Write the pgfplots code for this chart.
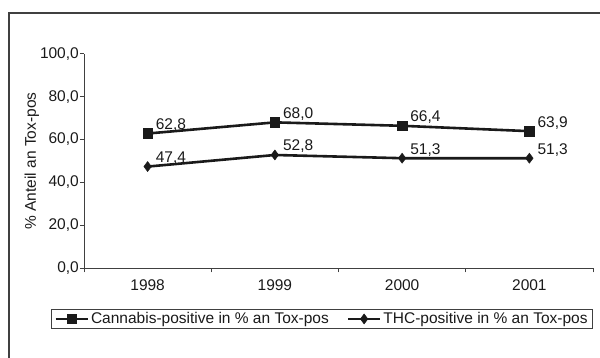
\documentclass[border=0pt]{standalone}
\usepackage{fontspec}
\setmainfont{Liberation Sans}
\usepackage{pgfplots}
\pgfplotsset{compat=1.18}

\definecolor{ink}{HTML}{1A1A1A}
\definecolor{frame}{HTML}{404040}
\newcommand\chartfont{\fontsize{15.5}{18}\selectfont}

\begin{document}
\begin{tikzpicture}[x=1pt,y=1pt,font=\chartfont]
  % page area and the outer frame (left and top edges)
  \path[use as bounding box] (0,0) rectangle (600,358);
  \draw[frame, line width=1.2pt] (9,0) -- (9,345) -- (600,345);

  \begin{axis}[
    at={(84pt,89.7pt)}, anchor=origin,
    scale only axis,
    width=509pt, height=214.6pt,
    xmin=0.5, xmax=4.5,
    ymin=0, ymax=100,
    axis lines*=left,
    axis line style={frame, line width=0.9pt},
    xtick={1,2,3,4},
    xticklabels={1998,1999,2000,2001},
    minor xtick={0.5,1.5,2.5,3.5,4.5},
    ytick={0,20,40,60,80,100},
    tick align=outside,
    major tick length=4pt,
    minor tick length=4pt,
    x tick style={draw=none},
    minor x tick style={draw=frame, line width=0.9pt},
    y tick style={draw=frame, line width=0.9pt},
    tick label style={font=\chartfont, text=ink},
    yticklabel style={inner sep=1pt,
      /pgf/number format/fixed, /pgf/number format/fixed zerofill,
      /pgf/number format/precision=1, /pgf/number format/use comma},
    xticklabel style={yshift=-4pt},
    /pgf/number format/assume math mode=true,
    ylabel={\% Anteil an Tox-pos},
    ylabel style={at={(rel axis cs:-0.1022,0.5)}, anchor=center, font=\chartfont, text=ink},
    nodes near coords,
    every node near coord/.append style={font=\chartfont,
      /pgf/number format/fixed, /pgf/number format/fixed zerofill,
      /pgf/number format/precision=1, /pgf/number format/use comma,
      anchor=base west, xshift=8pt, yshift=4pt, inner sep=0pt, text=ink},
    legend columns=2,
    legend style={at={(rel axis cs:0.4676,-0.236)}, anchor=center,
      font=\chartfont, text=ink,
      draw=frame, line width=0.9pt, inner xsep=3pt, inner ysep=1pt,
      /tikz/every even column/.append style={column sep=16pt}},
    legend image code/.code={
      \draw[#1, line width=2.6pt, mark repeat=2, mark phase=2]
        plot coordinates {(0pt,0pt) (16pt,0pt) (32pt,0pt)};
    },
  ]
    \addplot[ink, line width=2.6pt, mark=square*, mark size=4.8pt,
      mark options={line width=0.5pt}]
      coordinates {(1,62.8) (2,68.0) (3,66.4) (4,63.9)};
    \addlegendentry{Cannabis-positive in \% an Tox-pos}

    \addplot[ink, line width=2.6pt, mark=diamond*, mark size=5pt,
      mark options={line width=0.5pt}]
      coordinates {(1,47.4) (2,52.8) (3,51.3) (4,51.3)};
    \addlegendentry{THC-positive in \% an Tox-pos}
  \end{axis}
\end{tikzpicture}
\end{document}
